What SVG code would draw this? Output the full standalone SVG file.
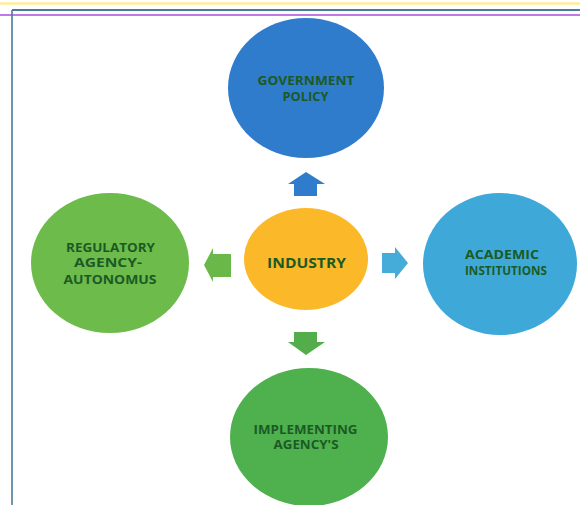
<svg xmlns="http://www.w3.org/2000/svg" width="580" height="505" viewBox="0 0 580 505">
  <style>
    .lbl { font-family: "Open Sans", "Liberation Sans", sans-serif; font-weight: bold; font-size: 11.8px; fill: #1c5a25; text-anchor: middle; }
    .big { font-size: 14px; }
  </style>
  <rect width="580" height="505" fill="#ffffff"/>

  <!-- page frame -->
  <g id="frame">
    <line x1="0" y1="3.5" x2="580" y2="3.5" stroke="#fcee98" stroke-width="2.5"/>
    <line x1="12" y1="10" x2="580" y2="10" stroke="#4a7c9e" stroke-width="1.8"/>
    <line x1="0" y1="15" x2="580" y2="15" stroke="#bf78e6" stroke-width="2.2"/>
    <line x1="12" y1="10" x2="12" y2="505" stroke="#4a7c9e" stroke-width="1.6"/>
  </g>

  <!-- outward arrows from the hub -->
  <g id="connectors">
    <polygon points="306,172 325,184 317,184 317,196 294,196 294,184 288,184" fill="#2f7ccc"/>
    <polygon points="408,263 395,279 395,273 382,273 382,253 395,253 395,247" fill="#45abd9"/>
    <polygon points="306,355 325,342 317,342 317,332 294,332 294,342 288,342" fill="#52ad4a"/>
    <polygon points="204,265 213,248 213,254 231,254 231,277 213,277 213,282" fill="#6ab84a"/>
  </g>

  <g id="government-policy">
    <ellipse cx="306" cy="88" rx="78" ry="70" fill="#2f7ccc"/>
    <text class="lbl" x="306" y="85" textLength="97" lengthAdjust="spacingAndGlyphs">GOVERNMENT</text>
    <text class="lbl" x="305.5" y="101" textLength="46" lengthAdjust="spacingAndGlyphs">POLICY</text>
  </g>

  <g id="industry">
    <ellipse cx="306" cy="259" rx="62" ry="51" fill="#fbb828"/>
    <text class="lbl big" x="306.5" y="268" textLength="79" lengthAdjust="spacingAndGlyphs">INDUSTRY</text>
  </g>

  <g id="academic-institutions">
    <ellipse cx="500" cy="264" rx="77" ry="71" fill="#3ea9d8"/>
    <text class="lbl" x="502" y="259" textLength="74" lengthAdjust="spacingAndGlyphs">ACADEMIC</text>
    <text class="lbl" x="506" y="275" textLength="82" lengthAdjust="spacingAndGlyphs">INSTITUTIONS</text>
  </g>

  <g id="regulatory-agency">
    <ellipse cx="110" cy="263" rx="79" ry="70" fill="#6cbb4b"/>
    <text class="lbl" x="110.5" y="252" textLength="89" lengthAdjust="spacingAndGlyphs">REGULATORY</text>
    <text class="lbl" x="108" y="267" textLength="68" lengthAdjust="spacingAndGlyphs">AGENCY-</text>
    <text class="lbl" x="110" y="284" textLength="93" lengthAdjust="spacingAndGlyphs">AUTONOMUS</text>
  </g>

  <g id="implementing-agencies">
    <ellipse cx="309" cy="437" rx="79" ry="69" fill="#4fb04e"/>
    <text class="lbl" x="305.5" y="434" textLength="104" lengthAdjust="spacingAndGlyphs">IMPLEMENTING</text>
    <text class="lbl" x="306" y="449" textLength="65" lengthAdjust="spacingAndGlyphs">AGENCY'S</text>
  </g>
</svg>
